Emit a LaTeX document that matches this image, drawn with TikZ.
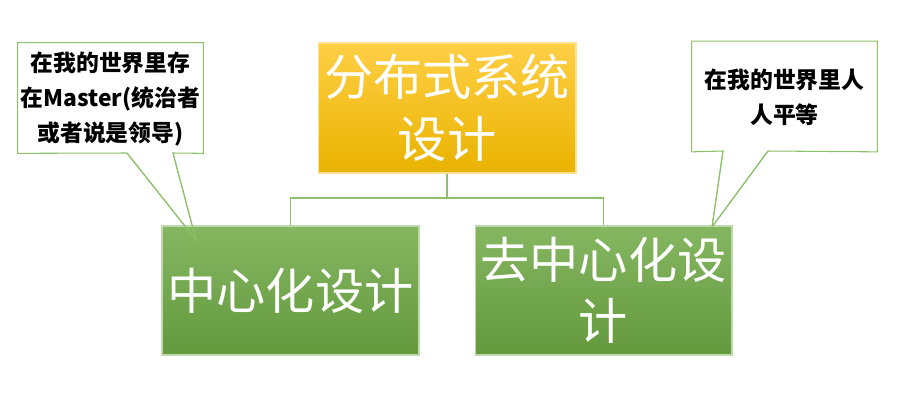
\documentclass[tikz,border=0pt]{standalone}
\usepackage{fontspec}
\setmainfont{Noto Sans CJK SC}
\usetikzlibrary{positioning}
\definecolor{leafgreen}{HTML}{6FAA45}
\definecolor{linegreen}{HTML}{8CC06A}
\definecolor{goldtop}{HTML}{FFCF45}
\definecolor{goldbot}{HTML}{E9B300}
\tikzstyle{rootbox}=[rectangle,minimum width=5.16cm,minimum height=2.6cm,inner sep=0pt,
  top color=goldtop,bottom color=goldbot,draw=goldtop!60!white,line width=0.6pt,
  text=white,font=\fontsize{28}{35}\selectfont,align=center]
\tikzstyle{leafbox}=[rectangle,minimum width=5.14cm,minimum height=2.58cm,inner sep=0pt,
  top color=leafgreen!85!white,bottom color=leafgreen!90!black,draw=leafgreen!45!white,line width=0.6pt,
  text=white,font=\fontsize{28}{35}\selectfont,align=center]
\tikzstyle{notebox}=[rectangle,minimum width=3.7cm,minimum height=2.2cm,inner sep=0pt,
  font=\bfseries\fontsize{13}{17}\selectfont,align=center]
\tikzstyle{note} = [draw=linegreen,line width=0.6pt,fill=white]
\tikzstyle{link} = [draw=linegreen,line width=0.9pt]

\begin{document}
\begin{tikzpicture}[x=0.02cm,y=-0.02cm]

    \useasboundingbox (0,0) rectangle (914,400);

    % callout outlines (drawn first, the tips run under the green boxes)
    \node[notebox] (lnote) at (110.5,98) {};
    \node[notebox] (rnote) at (784.5,96.5) {};
    \coordinate (ltip) at (196,240);
    \coordinate (rtip) at (712,227);
    \coordinate (lbase1) at (127,153);
    \coordinate (lbase2) at (173,153);
    \coordinate (rbase1) at (723,151);
    \coordinate (rbase2) at (768,151);

    \path[note] (lnote.north west) -- (lnote.north east) -- (lnote.south east)
        -- (lbase2) -- (ltip) -- (lbase1) -- (lnote.south west) -- cycle;
    \path[note] (rnote.north west) -- (rnote.north east) -- (rnote.south east)
        -- (rbase2) -- (rtip) -- (rbase1) -- (rnote.south west) -- cycle;

    \node[notebox] at (110.5,99) {在我的世界里存\\[3pt]在Master(统治者\\[3pt]或者说是领导)};
    \node[notebox] at (784.5,97) {在我的世界里人\\[3pt]人平等};

    % tree
    \node[rootbox] (root) at (447,108) {分布式系统\\设计};
    \coordinate (fork) at (447,198);

    \foreach \x/\name/\txt in {290.5/center/{中心化设计}, 603.5/decenter/{去中心化设\\计}}
        \node[leafbox] (\name) at (\x,290.5) {\txt};

    \path[link] (root.south) -- (fork);
    \foreach \dest in {center, decenter}
        \path[link] (fork) -| (\dest.north);

    % tips over the box edge
    \draw[draw=linegreen,line width=0.6pt] (lbase1) -- (ltip) -- (lbase2);
    \draw[draw=linegreen,line width=0.6pt] (rbase1) -- (rtip) -- (rbase2);

\end{tikzpicture}
\end{document}
